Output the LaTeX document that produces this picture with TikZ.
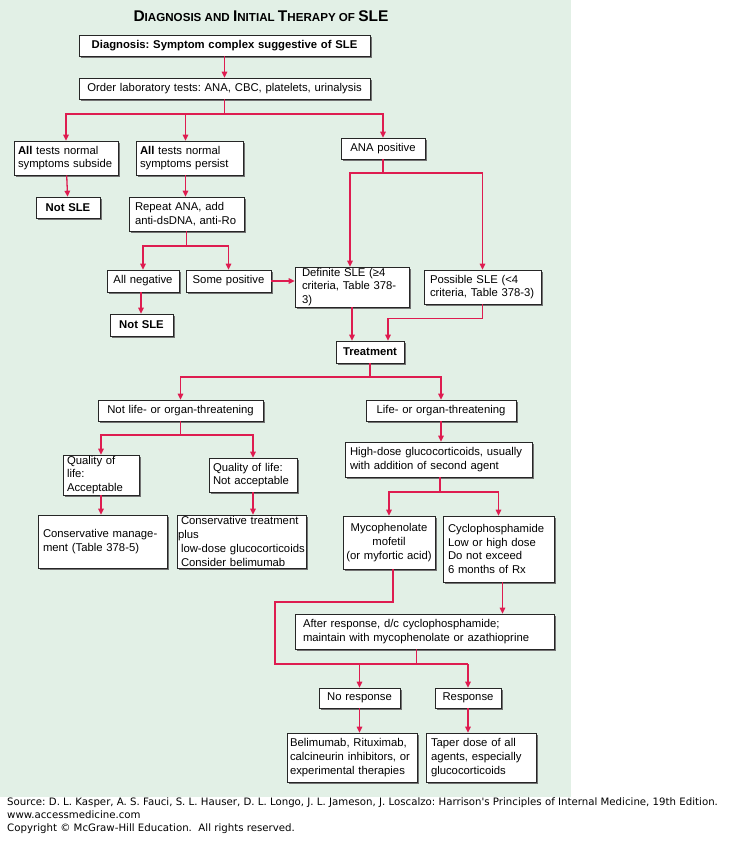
\documentclass[tikz,border=0pt]{standalone}
\usepackage{fontspec}
\setmainfont{Liberation Sans}
\newfontfamily\footfont{DejaVu Sans}
\usetikzlibrary{arrows.meta,shadows,calc}
\definecolor{bgg}{RGB}{226,240,230}
\definecolor{lnred}{RGB}{222,28,80}
\newcommand{\bx}[8]{% name x1 y1 x2 y2 align innersep text
  \node[box,align=#6,text width={#4-#2-2*#7},inner xsep=#7,minimum height={#5-#3}] (#1) at ({(#2+#4)/2},{(#3+#5)/2}) {#8};}
\tikzset{
  box/.style={draw=black!85,line width=0.6pt,fill=white,inner ysep=1pt,font=\fontsize{11.3}{13.8}\selectfont,
    drop shadow={shadow xshift=1.6pt,shadow yshift=-1.6pt,fill=black!55,opacity=1}},
  ln/.style={draw=lnred,line width=1.3pt},
  arr/.style={ln,-{Triangle[width=5.5pt,length=6pt]}}
}
\begin{document}
\frenchspacing
\begin{tikzpicture}[x=1pt,y=-1pt]
\useasboundingbox (0,0) rectangle (729,842);
\fill[bgg] (0,0) rectangle (571,797);
\node[font=\bfseries] (title) at (261,16) {{\fontsize{15.5}{16}\selectfont D}{\fontsize{11.6}{16}\selectfont IAGNOSIS AND }{\fontsize{15.5}{16}\selectfont I}{\fontsize{11.6}{16}\selectfont NITIAL }{\fontsize{15.5}{16}\selectfont T}{\fontsize{11.6}{16}\selectfont HERAPY OF }{\fontsize{15.5}{16}\selectfont SLE}};
\bx{diag}{79}{35}{370}{56}{center}{2pt}{\textbf{Diagnosis: Symptom complex suggestive of SLE}}
\bx{order}{79}{78}{370}{99}{center}{2pt}{Order laboratory tests: ANA, CBC, platelets, urinalysis}
\bx{sub}{14}{141}{118}{175}{left}{4pt}{\textbf{All} tests normal\\symptoms subside}
\bx{per}{136}{141}{243}{175}{left}{4pt}{\textbf{All} tests normal\\symptoms persist}
\bx{ana}{341}{138}{425}{159}{center}{2pt}{ANA positive}
\bx{not1}{36}{197}{100}{218}{center}{2pt}{\textbf{Not SLE}}
\bx{rep}{129}{197}{244}{231}{left}{6pt}{Repeat ANA, add\\anti-dsDNA, anti-Ro}
\bx{neg}{107}{270}{179}{292}{center}{2pt}{All negative}
\bx{some}{186}{270}{271}{292}{center}{2pt}{Some positive}
\bx{def}{295}{270}{409}{304}{left}{7pt}{Definite SLE (≥4\\criteria, Table 378-3)}
\bx{pos}{424}{270}{541}{304}{left}{6pt}{Possible SLE (<4\\criteria, Table 378-3)}
\bx{not2}{110}{314}{173}{336}{center}{2pt}{\textbf{Not SLE}}
\bx{treat}{336}{341}{404}{363}{center}{2pt}{\textbf{Treatment}}
\bx{notlife}{98}{400}{263}{421}{center}{2pt}{Not life- or organ-threatening}
\bx{life}{366}{400}{516}{421}{center}{2pt}{Life- or organ-threatening}
\bx{qa}{63}{458}{139}{492}{left}{4pt}{Quality of life:\\Acceptable}
\bx{qn}{209}{458}{297}{492}{left}{4pt}{Quality of life:\\Not acceptable}
\bx{cm}{38}{515}{167}{568}{left}{5pt}{Conservative manage-\\ment (Table 378-5)\\[8pt]}
\bx{ct}{177}{515}{306}{568}{left}{1pt}{\hspace{3pt}Conservative treatment plus\\\hspace{3pt}low-dose glucocorticoids\\\hspace{3pt}Consider belimumab}
\bx{hd}{345}{442}{532}{477}{left}{5pt}{High-dose glucocorticoids, usually\\with addition of second agent}
\bx{myco}{343}{516}{435}{569}{center}{1pt}{Mycophenolate\\mofetil\\(or myfortic acid)}
\bx{cyc}{443}{516}{554}{582}{left}{5pt}{Cyclophosphamide\\Low or high dose\\Do not exceed\\6 months of Rx}
\bx{after}{295}{614}{554}{649}{left}{8pt}{After response, d/c cyclophosphamide;\\maintain with mycophenolate or azathioprine}
\bx{nores}{319}{688}{400}{708}{center}{2pt}{No response}
\bx{resp}{435}{688}{501}{708}{center}{2pt}{Response}
\bx{bel}{287}{733}{417}{782}{left}{3pt}{Belimumab, Rituximab,\\calcineurin inhibitors, or\\experimental therapies}
\bx{tap}{426}{733}{536}{782}{left}{5pt}{Taper dose of all\\agents, especially\\glucocorticoids\\[6pt]}
% connectors
\draw[arr] (diag) -- (order);
\coordinate (j1) at (224.5,114);
\draw[ln] (order.south) -- (order.south |- j1);
\draw[arr] (j1) -| (sub.north);
\draw[arr] (j1) -| ([xshift=-4pt]per.north);
\draw[arr] (j1) -| (ana.north);
\draw[arr] (sub) -- (not1);
\draw[arr] ([xshift=-4pt]per.south) -- ([xshift=-4pt]per.south |- rep.north);
\coordinate (j2) at (383,173);
\draw[ln] (ana) -- (j2);
\draw[arr] (j2) -| ([xshift=-2pt]def.north);
\draw[arr] (j2) -| (pos.north);
\coordinate (j3) at (186.5,246);
\draw[ln] (rep.south) -- (rep.south |- j3);
\draw[arr] (j3) -| (neg.north);
\draw[arr] (j3) -| (some.north);
\draw[arr] (some.east) -- (some.east -| def.west);
\draw[arr] ([xshift=-2pt]neg.south) -- ([xshift=-2pt]neg.south |- not2.north);
\draw[arr] (def.south) -- (def.south |- treat.north);
\draw[arr] (pos.south) -- ++(0,14) -| ([xshift=18pt]treat.north);
\coordinate (j4) at (370,377);
\draw[ln] (treat) -- (j4);
\draw[arr] (j4) -| (notlife.north);
\draw[arr] (j4) -| (life.north);
\coordinate (j5) at (180.5,435);
\draw[ln] (notlife.south) -- (notlife.south |- j5);
\draw[arr] (j5) -| (qa.north);
\draw[arr] (j5) -| (qn.north);
\draw[arr] (qa.south) -- (qa.south |- cm.north);
\draw[arr] (qn.south) -- (qn.south |- ct.north);
\draw[arr] (life.south) -- (life.south |- hd.north);
\coordinate (j6) at (440,492);
\draw[ln] (j6 |- hd.south) -- (j6);
\draw[arr] (j6) -| (myco.north);
\draw[arr] (j6) -| (cyc.north);
\draw[arr] ([xshift=4pt]cyc.south) -- ([xshift=4pt]cyc.south |- after.north);
\coordinate (c1) at (275,602);
\coordinate (c2) at (468,664);
\draw[ln] ([xshift=4pt]myco.south) -- ([xshift=4pt]myco.south |- c1) -- (c1) |- (c2);
\draw[ln] ([xshift=-8pt]after.south) -- ([xshift=-8pt]after.south |- c2);
\draw[arr] (c2 -| nores.north) -- (nores.north);
\draw[arr] (c2) -- (resp.north);
\draw[arr] (nores.south) -- (nores.south |- bel.north);
\draw[arr] (resp.south) -- (resp.south |- tap.north);
% footer
\node[anchor=north west,align=left,inner sep=0pt,font=\footfont\fontsize{10.2}{12.6}\selectfont] (src) at (7,798) {Source: D. L. Kasper, A. S. Fauci, S. L. Hauser, D. L. Longo, J. L. Jameson, J. Loscalzo: Harrison's Principles of Internal Medicine, 19th Edition.\\www.accessmedicine.com\\Copyright © McGraw-Hill Education.\ \ All rights reserved.};
\end{tikzpicture}
\end{document}
